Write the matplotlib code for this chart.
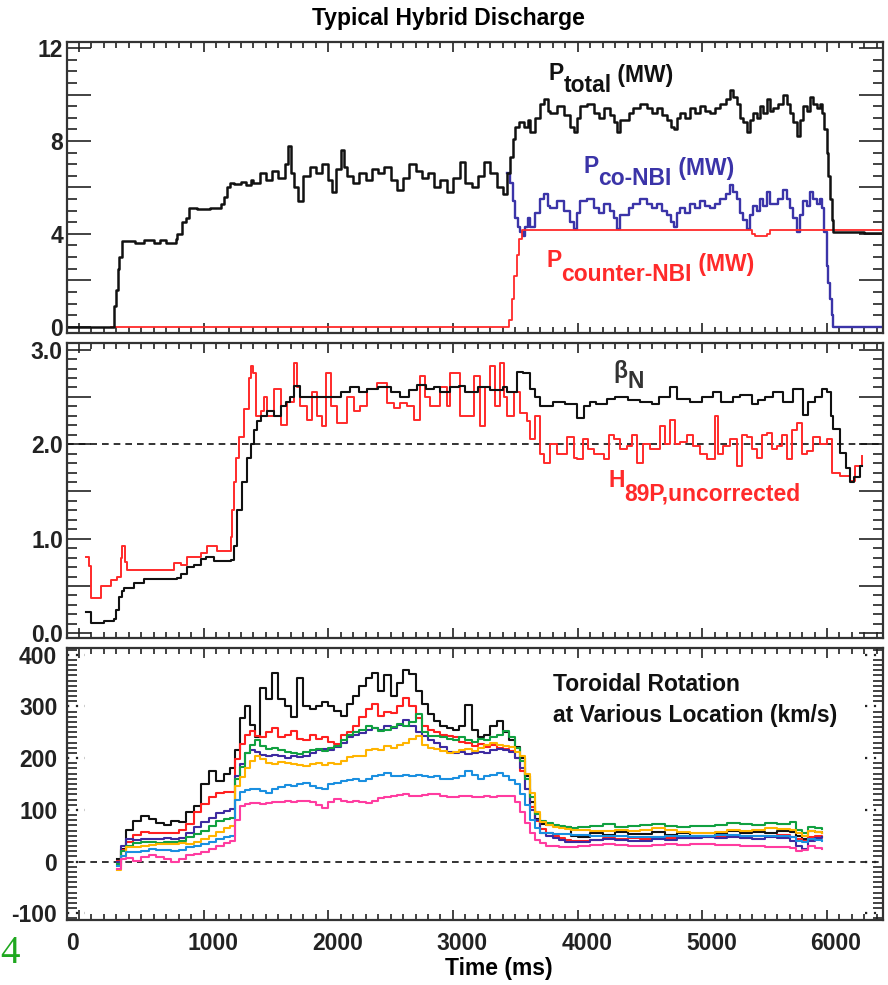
import matplotlib
matplotlib.use("Agg")
import matplotlib.pyplot as plt
from matplotlib.ticker import MultipleLocator, FixedLocator, FixedFormatter
from matplotlib.transforms import ScaledTranslation

plt.rcParams['font.family'] = ['Liberation Sans', 'DejaVu Sans']
plt.rcParams['font.weight'] = 'bold'
plt.rcParams['axes.unicode_minus'] = False

# ---- heating power (MW) ----
t_total = [-100, 268, 280, 295, 310, 325, 345, 450, 520, 600, 650, 700, 776, 790, 830, 856, 883, 950,
           1050, 1136, 1160, 1185, 1210, 1243, 1300, 1340, 1380,
           1400, 1450, 1500, 1550, 1600, 1650, 1675, 1700, 1725, 1760, 1800, 1850, 1900, 1950, 2000,
           2030, 2060, 2100, 2130, 2150, 2200, 2250, 2300, 2350, 2400, 2450, 2500, 2550, 2600, 2650,
           2700, 2750, 2800, 2850, 2900, 2950, 3000, 3060, 3100, 3150, 3200, 3250, 3300, 3350, 3400,
           3430, 3460, 3480, 3500, 3530, 3567, 3600, 3620, 3660, 3700, 3728, 3760, 3781, 3834, 3888,
           3941, 3968, 3995, 4021, 4075, 4128, 4170, 4208, 4261, 4290, 4315, 4340, 4368, 4410, 4448,
           4502, 4555, 4600, 4636, 4680, 4716, 4745, 4769, 4800, 4823, 4860, 4903, 4940, 4983, 5020,
           5063, 5100, 5143, 5190, 5223, 5250, 5277, 5305, 5330, 5356, 5385, 5410, 5440, 5463, 5490,
           5517, 5545, 5570, 5610, 5649, 5680, 5703, 5730, 5756, 5785, 5810, 5840, 5864, 5890, 5917,
           5945, 5957, 5975, 5997, 6010, 6024, 6040, 6051, 6300, 6450]
P_total = [0, 0, 0.9, 1.6, 2.5, 3.0, 3.7, 3.6, 3.75, 3.6, 3.75, 3.6, 3.8, 4.0, 4.5, 4.7, 5.1, 5.05,
           5.1, 5.3, 5.6, 6.0, 6.2, 6.15, 6.25, 6.1, 6.3,
           6.2, 6.6, 6.3, 6.7, 6.4, 7.0, 7.8, 6.6, 6.0, 5.4, 6.5, 6.9, 6.6, 7.0, 6.3,
           5.8, 6.8, 7.6, 6.9, 6.5, 6.2, 6.6, 6.3, 6.8, 6.6, 6.9, 6.3, 5.9, 6.4, 7.0,
           6.7, 6.4, 6.6, 6.0, 6.3, 5.8, 6.4, 7.1, 6.2, 6.0, 6.5, 7.1, 6.6, 6.0, 5.7,
           6.6, 7.3, 8.1, 8.6, 8.8, 8.6, 8.9, 8.4, 9.0, 9.6, 9.8, 9.3, 9.2, 9.5, 9.1,
           8.6, 8.4, 9.0, 9.5, 9.6, 9.2, 9.0, 9.4, 9.1, 8.8, 8.4, 8.9, 8.9, 9.2, 9.4,
           9.6, 9.4, 9.2, 9.4, 9.1, 8.9, 8.6, 8.5, 9.0, 9.2, 9.0, 9.4, 9.2, 9.5, 9.3,
           9.2, 9.4, 9.6, 9.8, 10.2, 9.9, 9.6, 9.0, 8.8, 8.4, 8.9, 9.2, 9.0, 9.5, 9.2,
           9.8, 9.3, 9.4, 9.6, 10.0, 9.6, 9.2, 8.8, 8.2, 8.9, 9.5, 9.3, 9.9, 9.6, 9.4,
           9.6, 9.2, 8.5, 7.5, 6.5, 5.5, 4.6, 4.1, 4.05, 4.05]

t_co = [3430, 3460, 3480, 3500, 3520, 3540, 3560, 3580, 3600, 3620, 3660, 3700, 3728, 3760, 3781,
        3834, 3888, 3941, 3968, 3995, 4021, 4075, 4128, 4170, 4208, 4261, 4290, 4315, 4340, 4368,
        4410, 4448, 4502, 4555, 4600, 4636, 4680, 4716, 4745, 4769, 4800, 4823, 4860, 4903, 4940,
        4983, 5020, 5063, 5100, 5143, 5190, 5223, 5250, 5277, 5305, 5330, 5356, 5385, 5410, 5440,
        5463, 5490, 5517, 5545, 5570, 5610, 5649, 5680, 5703, 5730, 5756, 5785, 5810, 5840, 5864,
        5890, 5917, 5945, 5960, 5975, 5997, 6010, 6024, 6040, 6051, 6450]
P_co = [6.6, 6.2, 5.4, 4.7, 4.3, 4.1, 3.9, 4.3, 4.7, 4.3, 4.9, 5.5, 5.7, 5.2, 5.1,
        5.4, 5.0, 4.5, 4.2, 4.9, 5.4, 5.5, 5.1, 4.9, 5.3, 5.0, 4.7, 4.2, 4.8, 4.8,
        5.1, 5.3, 5.5, 5.3, 5.1, 5.3, 5.0, 4.8, 4.5, 4.3, 4.9, 5.1, 4.9, 5.3, 5.1,
        5.4, 5.2, 5.1, 5.3, 5.5, 5.7, 6.1, 5.8, 5.5, 4.9, 4.6, 4.2, 4.8, 5.2, 5.0,
        5.5, 5.2, 5.8, 5.3, 5.3, 5.5, 5.9, 5.5, 5.1, 4.7, 4.1, 4.8, 5.4, 5.2, 5.8,
        5.5, 5.3, 5.5, 5.1, 4.1, 2.6, 1.9, 1.2, 0.5, 0.0, 0.0]

t_counter = [260, 3430, 3447, 3470, 3490, 3510, 3530, 3555, 5395, 5420, 5470, 5520, 5545, 6450]
P_counter = [0, 0, 0.3, 1.2, 2.2, 3.1, 3.8, 4.15, 4.0, 3.9, 3.9, 4.0, 4.15, 4.15]

# ---- beta_N and H89P ----
t_beta = [60, 95, 121, 200, 281, 295, 321, 348, 361, 442, 522, 700, 789, 816, 869, 922, 976, 1016,
          1083, 1216, 1243, 1270, 1310, 1350, 1380, 1403, 1430, 1457, 1510, 1563, 1620, 1660, 1697,
          1724, 1777, 1850, 1950, 2044, 2100, 2178, 2250, 2312, 2400, 2500, 2579, 2650, 2712, 2780,
          2845, 2900, 2979, 3050, 3100, 3200, 3300, 3400, 3433, 3513, 3560, 3620, 3660, 3700, 3800,
          3900, 3994, 4050, 4101, 4150, 4235, 4300, 4400, 4502, 4600, 4650, 4742, 4800, 4900, 5000,
          5089, 5150, 5250, 5303, 5400, 5450, 5500, 5570, 5650, 5730, 5810, 5850, 5900, 5960, 5997,
          6030, 6051, 6104, 6150, 6184, 6220, 6265, 6280]
beta_N = [0.23, 0.11, 0.11, 0.13, 0.15, 0.25, 0.38, 0.45, 0.48, 0.53, 0.57, 0.57, 0.58, 0.63, 0.70,
          0.72, 0.79, 0.81, 0.76, 0.78, 0.92, 1.3, 1.6, 1.85, 2.0, 2.15, 2.25, 2.3, 2.35, 2.3, 2.4,
          2.45, 2.5, 2.61, 2.5, 2.5, 2.5, 2.5, 2.55, 2.6, 2.55, 2.58, 2.6, 2.55, 2.5, 2.57, 2.63,
          2.58, 2.6, 2.55, 2.6, 2.62, 2.55, 2.6, 2.57, 2.6, 2.55, 2.76, 2.75, 2.58, 2.5, 2.4, 2.45,
          2.42, 2.28, 2.4, 2.45, 2.42, 2.48, 2.5, 2.47, 2.45, 2.42, 2.5, 2.6, 2.48, 2.45, 2.5,
          2.55, 2.45, 2.5, 2.52, 2.42, 2.47, 2.5, 2.55, 2.45, 2.58, 2.31, 2.45, 2.5, 2.58, 2.55,
          2.3, 2.16, 1.91, 1.75, 1.6, 1.65, 1.77, 1.77]

t_h89 = [60, 81, 95, 135, 175, 255, 308, 335, 348, 367, 388, 709, 762, 816, 869, 976, 1029, 1110,
         1190, 1216, 1230, 1243, 1264, 1283, 1323, 1363, 1377, 1398, 1417, 1457, 1483, 1510, 1563,
         1617, 1670, 1724, 1750, 1777, 1830, 1870, 1910, 1951, 1978, 2018, 2071, 2151, 2205, 2258,
         2311, 2392, 2472, 2525, 2579, 2632, 2685, 2739, 2779, 2819, 2899, 2952, 2979, 3059, 3166,
         3220, 3260, 3300, 3340, 3380, 3406, 3433, 3487, 3540, 3593, 3620, 3660, 3700, 3727, 3780,
         3834, 3914, 3967, 3994, 4047, 4087, 4128, 4208, 4248, 4288, 4341, 4395, 4435, 4475, 4528,
         4582, 4662, 4702, 4742, 4782, 4822, 4876, 4929, 4982, 5036, 5103, 5129, 5169, 5223, 5276,
         5316, 5356, 5396, 5436, 5476, 5517, 5557, 5597, 5637, 5677, 5717, 5757, 5797, 5837, 5890,
         5944, 5997, 6037, 6104, 6184, 6224, 6278]
h89 = [0.81, 0.71, 0.37, 0.37, 0.5, 0.56, 0.6, 0.8, 0.92, 0.75, 0.67, 0.67, 0.74, 0.72, 0.81, 0.85,
       0.92, 0.87, 0.87, 1.02, 1.3, 1.6, 1.85, 2.08, 2.37, 2.7, 2.83, 2.75, 2.3, 2.35, 2.5, 2.3, 2.58,
       2.2, 2.45, 2.86, 2.6, 2.4, 2.26, 2.55, 2.3, 2.19, 2.75, 2.4, 2.22, 2.5, 2.35, 2.4,
       2.58, 2.65, 2.44, 2.38, 2.44, 2.4, 2.26, 2.72, 2.5, 2.4, 2.6, 2.4, 2.75, 2.3, 2.72,
       2.19, 2.6, 2.83, 2.4, 2.86, 2.5, 2.3, 2.55, 2.33, 2.25, 2.05, 2.3, 1.9, 1.8, 2.0,
       1.9, 2.08, 1.85, 1.84, 2.05, 1.95, 1.9, 1.84, 2.1, 2.05, 1.95, 1.98, 2.1, 1.8, 2.0,
       1.95, 2.19, 2.0, 2.26, 2.0, 2.02, 2.1, 1.98, 1.9, 1.84, 2.3, 1.9, 1.98, 2.05, 1.77,
       2.1, 2.08, 1.95, 1.85, 2.1, 2.12, 1.95, 1.98, 2.1, 1.84, 2.15, 2.22, 1.9, 1.93, 2.08,
       2.0, 2.05, 1.7, 1.66, 1.61, 1.77, 1.87]

# ---- toroidal rotation (km/s), one profile per radial location ----
t_rot = [305, 340, 380, 430, 500, 560, 620, 680, 740, 800, 860, 920, 980, 1040, 1100, 1160, 1215,
         1250, 1290, 1330, 1370, 1410, 1450, 1500, 1550, 1600, 1650, 1700, 1750, 1800, 1850, 1900,
         1950, 2000, 2050, 2100, 2150, 2200, 2250, 2300, 2350, 2400, 2450, 2500, 2550, 2600, 2650,
         2700, 2750, 2800, 2850, 2900, 2950, 3000, 3050, 3100, 3150, 3200, 3250, 3300, 3350, 3400,
         3450, 3500, 3540, 3580, 3620, 3660, 3700, 3750, 3800, 3850, 3900, 3950, 4000, 4100, 4200,
         4300, 4400, 4500, 4600, 4700, 4800, 4900, 5000, 5100, 5200, 5300, 5400, 5500, 5600, 5700,
         5750, 5800, 5850, 5900, 5960]
rot_black = [5, 25, 62, 78, 88, 82, 74, 70, 78, 76, 95, 108, 150, 175, 155, 170, 180,
             215, 278, 300, 265, 240, 335, 315, 365, 315, 300, 280, 355, 300, 295, 300,
             308, 300, 292, 282, 305, 320, 340, 355, 364, 330, 360, 320, 345, 370, 362,
             330, 305, 285, 272, 262, 258, 255, 262, 303, 255, 240, 245, 262, 272, 250,
             235, 222, 200, 165, 115, 82, 72, 70, 68, 66, 66, 50, 48, 56, 52,
             58, 54, 53, 58, 52, 55, 50, 50, 54, 60, 56, 58, 55, 60, 58,
             50, 44, 60, 57, 56]
rot_red = [2, 22, 38, 52, 58, 56, 56, 56, 56, 62, 72, 95, 112, 125, 132, 134, 135,
           198, 228, 245, 252, 243, 240, 250, 258, 240, 245, 252, 238, 236, 245, 238,
           240, 232, 228, 245, 250, 262, 280, 295, 304, 282, 290, 288, 300, 316, 300,
           278, 262, 255, 250, 245, 242, 240, 232, 230, 224, 228, 222, 225, 220, 218,
           214, 200, 175, 140, 105, 78, 63, 55, 50, 46, 42, 40, 40, 42, 45,
           44, 46, 44, 48, 45, 46, 47, 47, 48, 50, 46, 49, 50, 52, 48,
           44, 40, 48, 50, 47]
rot_purple = [0, 30, 44, 42, 44, 44, 44, 45, 44, 46, 55, 66, 76, 85, 94, 98, 101,
              165, 188, 210, 215, 212, 207, 205, 206, 204, 200, 205, 203, 205, 210, 215,
              218, 215, 222, 230, 240, 245, 248, 255, 258, 255, 262, 258, 265, 274, 262,
              250, 242, 235, 229, 222, 212, 210, 212, 208, 210, 212, 210, 215, 218, 215,
              212, 200, 180, 140, 100, 80, 56, 50, 45, 42, 38, 37, 38, 42, 44,
              42, 40, 40, 44, 42, 45, 46, 47, 45, 48, 46, 44, 47, 46, 40,
              30, 25, 40, 46, 47]
rot_green = [-5, 20, 30, 36, 37, 37, 36, 38, 37, 40, 47, 53, 60, 68, 78, 82, 85,
             160, 183, 210, 225, 236, 223, 218, 220, 216, 212, 210, 208, 212, 215, 217,
             214, 220, 224, 235, 245, 250, 255, 262, 258, 252, 255, 260, 266, 262, 270,
             285, 250, 242, 242, 240, 238, 236, 240, 236, 232, 238, 236, 240, 245, 252,
             240, 220, 195, 160, 125, 92, 79, 74, 70, 68, 66, 64, 66, 68, 72,
             66, 68, 70, 72, 68, 66, 68, 69, 70, 74, 72, 70, 74, 72, 76,
             62, 56, 66, 64, 63]
rot_orange = [-17, 10, 28, 28, 30, 33, 34, 34, 34, 35, 34, 38, 44, 50, 58, 64, 69,
              146, 163, 180, 195, 204, 198, 191, 188, 192, 191, 188, 186, 185, 188, 191,
              186, 190, 188, 195, 202, 204, 204, 215, 218, 216, 223, 220, 226, 230, 238,
              242, 225, 220, 217, 214, 210, 212, 215, 217, 214, 220, 226, 229, 226, 224,
              222, 212, 204, 170, 133, 95, 76, 70, 66, 64, 63, 62, 62, 60, 60,
              62, 60, 62, 64, 62, 58, 56, 56, 58, 62, 60, 62, 64, 63, 62,
              55, 50, 60, 58, 56]
rot_sky = [-8, 10, 18, 18, 20, 24, 22, 22, 21, 23, 28, 31, 34, 38, 44, 47, 50,
           120, 135, 138, 140, 140, 137, 133, 140, 145, 149, 147, 150, 152, 146, 142,
           140, 150, 152, 155, 158, 159, 156, 159, 165, 168, 172, 166, 165, 168, 166,
           168, 166, 164, 165, 160, 159, 162, 165, 175, 168, 160, 165, 168, 172, 165,
           158, 150, 130, 110, 80, 65, 56, 55, 54, 53, 53, 52, 52, 50, 50,
           49, 48, 47, 48, 50, 49, 50, 50, 51, 52, 50, 49, 50, 50, 47,
           40, 37, 44, 42, 40]
rot_pink = [-14, 4, 6, 2, 8, 12, 8, 5, 0, 5, 12, 15, 18, 24, 30, 35, 40,
            80, 108, 112, 114, 114, 112, 114, 116, 115, 117, 116, 118, 117, 115, 110,
            104, 115, 121, 118, 116, 118, 115, 114, 118, 122, 124, 126, 128, 130, 126,
            127, 128, 130, 130, 127, 124, 124, 126, 127, 125, 124, 127, 124, 126, 127,
            126, 116, 95, 75, 55, 42, 36, 31, 30, 28, 28, 28, 30, 32, 34,
            33, 31, 31, 32, 34, 33, 34, 34, 33, 32, 31, 30, 29, 28, 26,
            21, 22, 31, 26, 24]

rot_series = [rot_black, rot_red, rot_purple, rot_green, rot_orange, rot_sky, rot_pink]
rot_colors = ['#111111', '#ff2020', '#3d2aa0', '#10a040', '#ffb400', '#1a8fe0', '#ff3ca0']

BLACK = '#111111'
BLUE = '#3b34a8'
RED = '#ff2a2a'
FS = 16.5

fig = plt.figure(figsize=(8.88, 9.85), dpi=100)
ax1 = fig.add_axes([0.0755, 0.6619, 0.919, 0.2954])
ax2 = fig.add_axes([0.0755, 0.3523, 0.919, 0.2995])
ax3 = fig.add_axes([0.0755, 0.0660, 0.919, 0.2761])

# top: power
ax1.plot(t_co, P_co, color=BLUE, lw=1.7, drawstyle='steps-post')
ax1.plot(t_counter, P_counter, color=RED, lw=1.3, drawstyle='steps-post')
ax1.plot(t_total, P_total, color=BLACK, lw=1.8, drawstyle='steps-post')
ax1.set_ylim(-0.27, 12.26)

# middle: beta_N, H89P
ax2.axhline(2.0, color=BLACK, lw=1.2, ls=(0, (4, 3)))
ax2.plot(t_h89, h89, color=RED, lw=1.4, drawstyle='steps-post')
ax2.plot(t_beta, beta_N, color=BLACK, lw=1.5, drawstyle='steps-post')
ax2.set_ylim(-0.05, 3.07)

# bottom: rotation
ax3.axhline(0, color=BLACK, lw=1.2, ls=(0, (4, 3)))
for vals, c in zip(rot_series, rot_colors):
    ax3.plot(t_rot, vals, color=c, lw=1.5, drawstyle='steps-post')
ax3.set_ylim(-113, 413)

for ax in (ax1, ax2, ax3):
    ax.set_xlim(-95, 6450)
    ax.xaxis.set_major_locator(MultipleLocator(1000))
    ax.xaxis.set_minor_locator(MultipleLocator(100))
    ax.tick_params(which='both', direction='in', top=True, right=True, width=1.2, colors='#222222',
                   labelsize=FS)
    ax.tick_params(axis='x', which='major', length=7, pad=9)
    ax.tick_params(axis='x', which='minor', length=4)
    ax.tick_params(axis='y', which='major', length=17, pad=3)
    ax.tick_params(axis='y', which='minor', length=7)
    for sp in ax.spines.values():
        sp.set_linewidth(1.6)
        sp.set_color('#333333')

ax1.tick_params(labelbottom=False)
ax2.tick_params(labelbottom=False)

ax1.yaxis.set_major_locator(FixedLocator([0, 2, 4, 6, 8, 10, 12]))
ax1.yaxis.set_major_formatter(FixedFormatter(['0', '', '4', '', '8', '', '12']))
ax1.yaxis.set_minor_locator(MultipleLocator(0.5))

ax2.yaxis.set_major_locator(FixedLocator([0, 0.5, 1.0, 1.5, 2.0, 2.5, 3.0]))
ax2.yaxis.set_major_formatter(FixedFormatter(['0.0', '', '1.0', '', '2.0', '', '3.0']))
ax2.yaxis.set_minor_locator(MultipleLocator(0.1))

ax3.yaxis.set_major_locator(FixedLocator([-100, 0, 100, 200, 300, 400]))
ax3.yaxis.set_major_formatter(FixedFormatter(['-100', '0', '100', '200', '300', '400']))
ax3.yaxis.set_minor_locator(MultipleLocator(10))
ax3.tick_params(axis='y', which='major', length=0, pad=7)
for yv in [-100, 0, 100, 200, 300, 400]:
    ax3.axhline(yv, xmin=0, xmax=0.022, color='#222222', lw=1.6, ls=(0, (1, 3)))
    ax3.axhline(yv, xmin=0.978, xmax=1, color='#222222', lw=1.6, ls=(0, (1, 3)))

# time labels sit a little right of their ticks, the zero a little left
ax3.xaxis.set_major_locator(FixedLocator([0, 1000, 2000, 3000, 4000, 5000, 6000]))
for lab, dx in zip(ax3.get_xticklabels(), [-6, 9, 9, 9, 9, 9, 9]):
    lab.set_transform(lab.get_transform() + ScaledTranslation(dx / 100, 0, fig.dpi_scale_trans))


def chain(ax, x, y, parts, color):
    """Write text pieces one after another, each lifted/lowered by a pixel offset."""
    s, dy = parts[0]
    t = ax.text(x, y, s, color=color, fontsize=FS, va='baseline')
    for s, dy in parts[1:]:
        t = ax.annotate(s, xy=(1, 0), xycoords=t, xytext=(0, dy), textcoords='offset pixels',
                        color=color, fontsize=FS, va='bottom')


chain(ax1, 3763, 10.63, [('P', 0), ('total', -12), (' (MW)', 10)], BLACK)
chain(ax1, 4045, 6.64, [('P', 0), ('co-NBI', -12), (' (MW)', 10)], BLUE)
chain(ax1, 3748, 2.57, [('P', 0), ('counter-NBI', -14), (' (MW)', 10)], RED)
chain(ax2, 4285, 2.7, [('β', 0), ('N', -10)], '#333333')
chain(ax2, 4245, 1.55, [('H', 0), ('89P,uncorrected', -14)], RED)
ax3.text(3805, 329, 'Toroidal Rotation', color=BLACK, fontsize=FS, va='baseline')
ax3.text(3805, 269, 'at Various Location (km/s)', color=BLACK, fontsize=FS, va='baseline')

fig.text(0.505, 1 - 18 / 985, 'Typical Hybrid Discharge', ha='center', va='center', fontsize=FS)
fig.text(499 / 888, 1 - 969 / 985, 'Time (ms)', ha='center', va='center', fontsize=FS)
fig.text(0.0, 1 - 963 / 985, '4', color='#1fa81f', fontsize=28, fontweight='normal',
         family=['Liberation Serif', 'DejaVu Serif'], ha='left', va='baseline')

fig.savefig('out.png', dpi=100)
